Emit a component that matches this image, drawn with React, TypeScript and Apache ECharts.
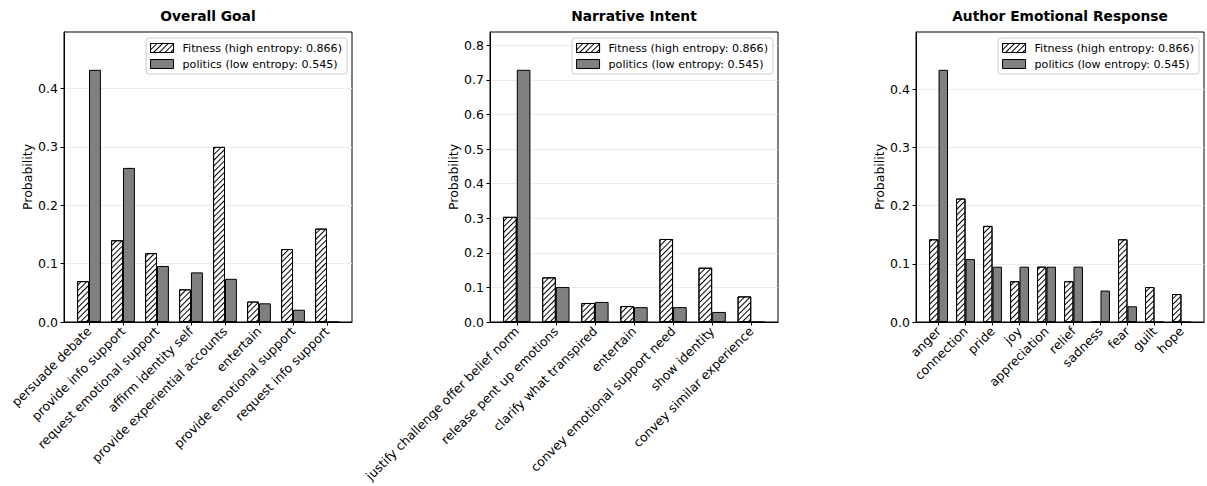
import React, { useEffect, useRef } from "react";
import * as echarts from "echarts";

const FONT = "DejaVu Sans";

const seriesNames = ["Fitness (high entropy: 0.866)", "politics (low entropy: 0.545)"];
const panelTitles = ["Overall Goal", "Narrative Intent", "Author Emotional Response"];

const goalCategories = [
  "persuade debate",
  "provide info support",
  "request emotional support",
  "affirm identity self",
  "provide experiential accounts",
  "entertain",
  "provide emotional support",
  "request info support",
];
const goalFitness = [0.07, 0.14, 0.118, 0.056, 0.3, 0.035, 0.125, 0.16];
const goalPolitics = [0.432, 0.264, 0.096, 0.085, 0.074, 0.032, 0.021, 0];
const goalTicks = [0, 0.1, 0.2, 0.3, 0.4];

const intentCategories = [
  "justify challenge offer belief norm",
  "release pent up emotions",
  "clarify what transpired",
  "entertain",
  "convey emotional support need",
  "show identity",
  "convey similar experience",
];
const intentFitness = [0.304, 0.129, 0.055, 0.046, 0.24, 0.157, 0.074];
const intentPolitics = [0.729, 0.101, 0.058, 0.043, 0.043, 0.029, 0];
const intentTicks = [0, 0.1, 0.2, 0.3, 0.4, 0.5, 0.6, 0.7, 0.8];

const emotionCategories = [
  "anger",
  "connection",
  "pride",
  "joy",
  "appreciation",
  "relief",
  "sadness",
  "fear",
  "guilt",
  "hope",
];
const emotionFitness = [0.142, 0.212, 0.165, 0.07, 0.095, 0.07, 0, 0.142, 0.06, 0.048];
const emotionPolitics = [0.433, 0.108, 0.095, 0.095, 0.095, 0.095, 0.054, 0.027, 0, 0];
const emotionTicks = [0, 0.1, 0.2, 0.3, 0.4];

const panels = [
  { cats: goalCategories, fit: goalFitness, pol: goalPolitics, ticks: goalTicks },
  { cats: intentCategories, fit: intentFitness, pol: intentPolitics, ticks: intentTicks },
  { cats: emotionCategories, fit: emotionFitness, pol: emotionPolitics, ticks: emotionTicks },
];

const W = 1207;
const H = 486;
const gridLefts = [64, 490, 916];
const gridTop = 32;
const gridW = 288;
const gridH = 290;
const BAR = 0.35;
const TICK_FS = 12.5;
const LEGEND_FS = 11.1;
const TITLE_FS = 13.8;

function buildOption() {
  const grid: any[] = [];
  const xAxis: any[] = [];
  const yAxis: any[] = [];
  const series: any[] = [];
  const legend: any[] = [];
  const graphic: any[] = [];

  panels.forEach((p, i) => {
    const n = p.cats.length;
    const lo0 = -BAR;
    const hi0 = n - 1 + BAR;
    const pad = (hi0 - lo0) * 0.05;
    const lo = lo0 - pad;
    const hi = hi0 + pad;
    const barPx = (BAR * gridW) / (hi - lo);
    const allVals = p.fit.concat(p.pol);
    const ymax = Math.max(...allVals) * 1.15;
    const idx = p.cats.map((_, j) => j);
    const left = gridLefts[i];

    grid.push({
      left,
      top: gridTop,
      width: gridW,
      height: gridH,
      show: true,
      borderColor: "#000",
      borderWidth: 1,
      backgroundColor: "transparent",
      containLabel: false,
    });

    xAxis.push({
      type: "value",
      gridIndex: i,
      min: lo,
      max: hi,
      axisLine: { show: true, onZero: false, lineStyle: { color: "#000", width: 1 } },
      axisTick: {
        show: true,
        customValues: idx,
        length: 3.5,
        lineStyle: { color: "#000", width: 1 },
      },
      axisLabel: {
        show: true,
        customValues: idx,
        formatter: (v: number) => p.cats[Math.round(v)] ?? "",
        rotate: 45,
        margin: 7,
        fontSize: TICK_FS,
        fontFamily: FONT,
        color: "#000",
      },
      splitLine: { show: false },
    });

    yAxis.push({
      type: "value",
      gridIndex: i,
      min: 0,
      max: ymax,
      interval: 0.1,
      name: "Probability",
      nameLocation: "middle",
      nameGap: 29,
      nameTextStyle: { fontSize: TICK_FS, fontFamily: FONT, color: "#000" },
      axisLine: { show: true, onZero: false, lineStyle: { color: "#000", width: 1 } },
      axisTick: {
        show: true,
        customValues: p.ticks,
        length: 3.5,
        lineStyle: { color: "#000", width: 1 },
      },
      axisLabel: {
        show: true,
        customValues: p.ticks,
        formatter: (v: number) => v.toFixed(1),
        margin: 6,
        fontSize: TICK_FS,
        fontFamily: FONT,
        color: "#000",
      },
      splitLine: { show: true, lineStyle: { color: "#ebebeb", width: 1 } },
    });

    series.push({
      type: "bar",
      name: seriesNames[0],
      xAxisIndex: i,
      yAxisIndex: i,
      data: p.fit.map((v, j) => [j, v]),
      barWidth: barPx,
      barGap: "0%",
      itemStyle: {
        color: "#ffffff",
        borderColor: "#000",
        borderWidth: 1,
        decal: {
          symbol: "rect",
          symbolSize: 1,
          dashArrayX: [1, 0],
          dashArrayY: [1, 3],
          rotation: -Math.PI / 4,
          color: "#000",
        },
      },
    });
    series.push({
      type: "bar",
      name: seriesNames[1],
      xAxisIndex: i,
      yAxisIndex: i,
      data: p.pol.map((v, j) => [j, v]),
      barWidth: barPx,
      barGap: "0%",
      itemStyle: { color: "#808080", borderColor: "#000", borderWidth: 1 },
    });

    legend.push({
      data: seriesNames,
      orient: "vertical",
      right: W - (left + gridW - 5),
      top: 38,
      itemWidth: 23,
      itemHeight: 9,
      itemGap: 2,
      icon: "rect",
      padding: [3, 5, 3, 4],
      backgroundColor: "rgba(255,255,255,0.8)",
      borderColor: "#cccccc",
      borderWidth: 1,
      borderRadius: 3,
      selectedMode: false,
      itemStyle: { borderColor: "#000", borderWidth: 1 },
      textStyle: {
        fontSize: LEGEND_FS,
        fontFamily: FONT,
        color: "#000",
        lineHeight: 14,
        padding: [0, 0, 0, 4],
      },
    });

    graphic.push({
      type: "text",
      x: left + gridW / 2,
      y: 9,
      style: {
        text: panelTitles[i],
        textAlign: "center",
        textVerticalAlign: "top",
        font: `bold ${TITLE_FS}px "${FONT}"`,
        fill: "#000",
      },
    });
  });

  return {
    animation: false,
    backgroundColor: "#ffffff",
    grid,
    xAxis,
    yAxis,
    series,
    legend,
    graphic,
  };
}

export default function App() {
  const ref = useRef<HTMLDivElement>(null);
  useEffect(() => {
    if (!ref.current) return;
    const chart = echarts.init(ref.current, undefined, { renderer: "svg" });
    chart.setOption(buildOption() as any);
    return () => chart.dispose();
  }, []);
  return (
    <div
      ref={ref}
      style={{ position: "fixed", left: 0, top: 0, width: W, height: H, background: "#fff" }}
    />
  );
}
